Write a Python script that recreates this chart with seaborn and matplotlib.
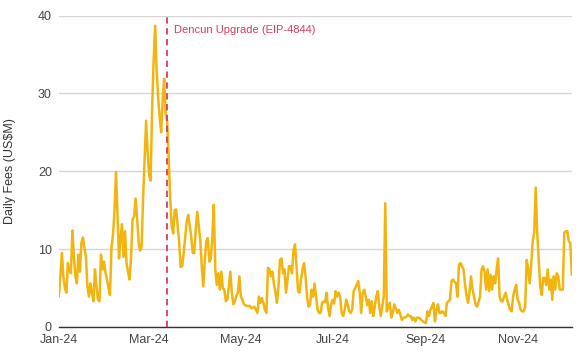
import pandas as pd
import numpy as np
import matplotlib
matplotlib.use("Agg")
import matplotlib.pyplot as plt
import matplotlib.dates as mdates
import seaborn as sns

# daily fees in US$M (2024)
jan_fees = [3.9, 6.5, 9.5, 6.5, 5.0, 4.4, 8.2, 7.2, 6.9, 12.4, 9.0, 6.5, 5.6, 9.3, 7.1, 10.8,
            11.5, 10.2, 9.0, 5.2, 3.9, 5.6, 4.4, 3.3, 7.4, 5.2, 3.5, 3.3, 9.3, 7.4, 8.4]
feb_fees = [7.0, 6.1, 5.0, 4.1, 10.3, 11.8, 15.0, 19.9, 14.2, 8.8, 11.5, 13.2, 9.0, 12.3, 8.2,
            7.0, 6.1, 9.0, 13.8, 14.2, 16.5, 14.0, 11.0, 9.8, 10.3, 16.5, 21.5, 26.5, 22.5]
mar_fees = [19.5, 18.8, 28.0, 34.2, 38.7, 33.0, 29.5, 27.0, 25.0, 29.1, 31.9, 27.4, 26.5, 21.8,
            16.7, 13.0, 12.0, 15.0, 15.1, 13.0, 10.8, 7.7, 7.8, 9.5, 11.6, 13.5, 14.4, 13.0,
            11.6, 9.5, 9.5]
apr_fees = [12.5, 14.8, 13.0, 11.2, 7.8, 5.2, 8.6, 11.0, 11.4, 8.4, 8.8, 11.4, 15.7, 7.4, 5.4,
            6.9, 4.8, 7.1, 5.0, 4.8, 3.3, 3.5, 5.2, 7.1, 4.4, 2.9, 3.3, 4.0, 4.4, 6.5]
may_fees = [3.9, 3.5, 2.9, 2.8, 2.7, 2.7, 2.7, 2.4, 2.5, 2.6, 2.2, 1.8, 3.9, 3.1, 3.7, 3.1,
            2.2, 1.8, 7.6, 7.4, 6.5, 7.1, 5.5, 4.4, 3.1, 5.2, 8.6, 8.8, 6.9, 7.4, 4.4]
jun_fees = [6.1, 7.8, 7.8, 6.9, 9.9, 10.6, 7.8, 4.6, 4.4, 6.1, 7.4, 8.2, 6.5, 3.9, 2.6, 2.9,
            4.8, 3.9, 5.6, 3.9, 2.2, 1.8, 1.8, 3.1, 3.3, 3.2, 4.4, 2.4, 1.4, 2.9]
jul_fees = [3.5, 3.0, 4.6, 3.9, 4.4, 3.9, 1.8, 1.4, 2.2, 3.5, 2.9, 2.0, 1.8, 2.2, 4.6, 5.0,
            5.4, 5.9, 4.5, 1.8, 4.4, 4.8, 3.9, 2.8, 3.5, 1.8, 3.3, 1.4, 2.6, 3.9, 4.6]
aug_fees = [2.6, 1.4, 2.6, 3.9, 15.9, 2.0, 2.6, 3.1, 1.2, 1.8, 2.9, 2.4, 1.8, 2.2, 1.6, 0.9,
            1.2, 1.2, 1.3, 1.6, 1.4, 1.4, 0.9, 1.2, 0.7, 1.2, 1.2, 1.1, 0.9, 0.7, 0.6]
sep_fees = [0.5, 2.0, 1.4, 2.2, 2.6, 3.1, 0.7, 2.2, 2.9, 1.8, 1.8, 2.0, 1.8, 1.4, 3.1, 3.3,
            3.5, 5.9, 6.1, 5.8, 5.6, 3.9, 8.0, 8.2, 7.8, 7.4, 5.5, 4.0, 3.1, 4.5]
oct_fees = [6.5, 4.8, 3.9, 2.9, 2.6, 3.2, 3.9, 7.4, 7.8, 7.1, 4.8, 7.4, 4.6, 6.7, 4.8, 6.5,
            5.6, 7.4, 8.8, 3.9, 3.3, 3.3, 3.9, 4.4, 3.5, 2.8, 2.2, 2.0, 3.9, 4.8, 5.4]
nov_fees = [3.5, 3.1, 2.2, 2.0, 2.0, 2.6, 8.6, 7.4, 5.6, 8.0, 11.0, 12.1, 17.9, 12.1, 8.6,
            5.2, 4.1, 6.3, 6.3, 5.4, 7.4, 4.8, 6.1, 3.5, 6.5, 4.8, 6.9, 6.5, 4.8, 4.8]
dec_fees = [4.8, 12.1, 12.3, 12.3, 11.0, 10.8, 6.7]

start_date = "2024-01-01"
dencun_date = "2024-03-13"
dencun_label = "Dencun Upgrade (EIP-4844)"
tick_dates = ["2024-01-01", "2024-03-01", "2024-05-01", "2024-07-01", "2024-09-01", "2024-11-01"]

fees = (jan_fees + feb_fees + mar_fees + apr_fees + may_fees + jun_fees + jul_fees
        + aug_fees + sep_fees + oct_fees + nov_fees + dec_fees)
df = pd.DataFrame({"date": pd.date_range(start_date, periods=len(fees), freq="D"),
                   "fees": fees})

sns.set_theme(style="white")
plt.rcParams["font.family"] = ["Liberation Sans", "DejaVu Sans"]

fig = plt.figure(figsize=(5.77, 3.55), dpi=100)
ax = fig.add_axes([0.102, 0.079, 0.889, 0.877])

sns.lineplot(data=df, x="date", y="fees", ax=ax, color="#F2B50F", linewidth=1.8)

# Dencun marker
dencun = pd.Timestamp(dencun_date)
ax.axvline(dencun, color="#DB3A5F", linestyle=(0, (3.5, 2.5)), linewidth=1.3, zorder=3)
ax.annotate(dencun_label, xy=(dencun, 38.1), xytext=(5, 0), textcoords="offset points",
            va="center", ha="left", fontsize=8, color="#DB3A5F")

ax.set_xlim(df["date"].iloc[0], df["date"].iloc[-1])
ax.set_ylim(0, 40)
ax.set_yticks([0, 10, 20, 30, 40])
ax.set_xticks(pd.to_datetime(tick_dates))
ax.xaxis.set_major_formatter(mdates.DateFormatter("%b-%y"))

ax.grid(axis="y", color="#D6D6D6", linewidth=1)
ax.grid(axis="x", visible=False)
for side in ["top", "right", "left"]:
    ax.spines[side].set_visible(False)
ax.spines["bottom"].set_color("#333333")
ax.spines["bottom"].set_linewidth(1)

ax.tick_params(axis="both", length=0, labelsize=9, colors="#444444")
ax.tick_params(axis="y", pad=5)
ax.tick_params(axis="x", pad=5)
ax.set_xlabel("")
ax.set_ylabel("Daily Fees (US$M)", fontsize=9, color="#333333", labelpad=16)

fig.savefig("out.png", dpi=100)
